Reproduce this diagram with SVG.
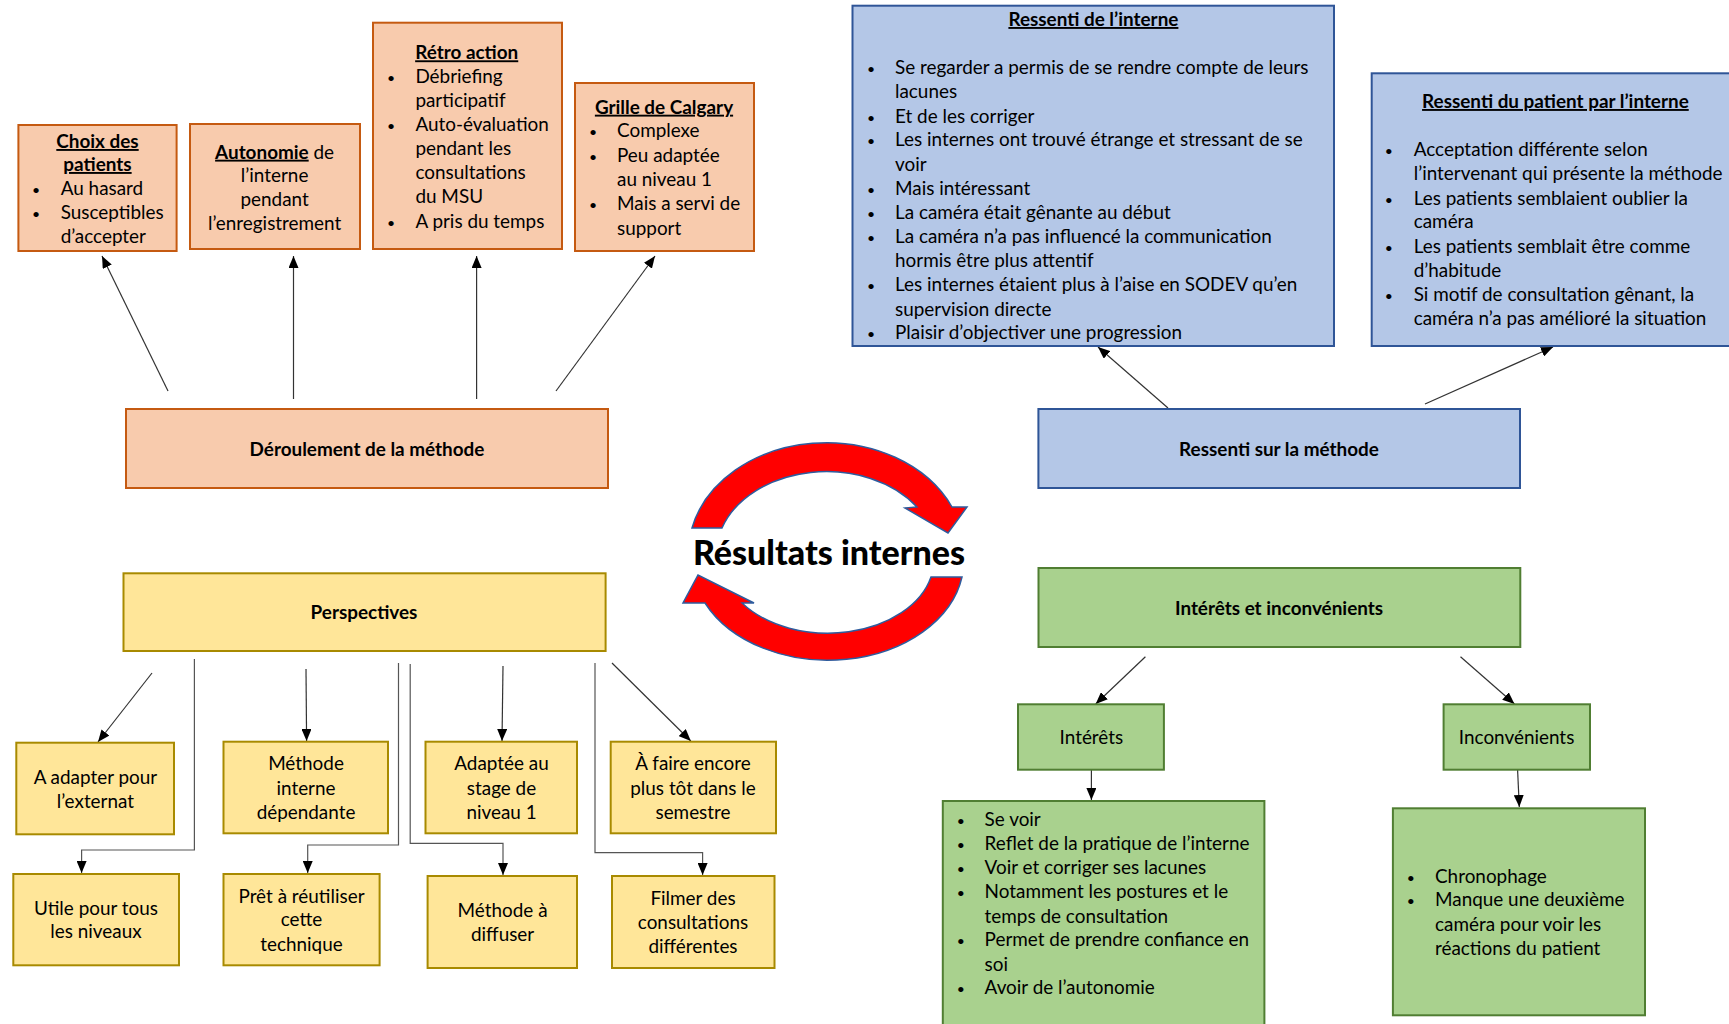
<svg xmlns="http://www.w3.org/2000/svg" width="1729" height="1024" viewBox="0 0 1729 1024">
<style>
.t{font-family:Lato,"Liberation Sans",sans-serif;font-size:18.9px;fill:#000}
.c{text-anchor:middle}
.b{font-weight:bold}
.u{text-decoration:underline}
.d{font-size:14px}
.or{fill:#F8CBAD;stroke:#C55A11;stroke-width:2}
.bl{fill:#B4C7E7;stroke:#2F5597;stroke-width:2}
.ye{fill:#FFE699;stroke:#A88A00;stroke-width:2}
.gr{fill:#A9D18E;stroke:#507E32;stroke-width:2}
.ln{stroke:#333;stroke-width:1.2;fill:none;marker-end:url(#ah)}
.el{stroke:#555;stroke-width:1.2;fill:none;marker-end:url(#ah)}
.ra{fill:#FF0000;stroke:#2E5C9E;stroke-width:1.5}
</style>
<defs>
<marker id="ah" markerUnits="userSpaceOnUse" markerWidth="12" markerHeight="10" refX="12" refY="5" orient="auto">
<path d="M0,0 L12,5 L0,10 z" fill="#000"/>
</marker>
</defs>
<rect width="1729" height="1024" fill="#fff"/>

<g id="connectors">
<line class="ln" x1="168" y1="391" x2="102" y2="256"/>
<line class="ln" x1="293.5" y1="399" x2="293.5" y2="256"/>
<line class="ln" x1="476.6" y1="399" x2="476.6" y2="256"/>
<line class="ln" x1="556" y1="391" x2="655" y2="256"/>
<line class="ln" x1="1168" y1="408" x2="1098" y2="347"/>
<line class="ln" x1="1425" y1="404" x2="1553" y2="347"/>
<line class="ln" x1="152" y1="673" x2="98" y2="742"/>
<polyline class="el" points="194.4,659 194.4,850 81.6,850 81.6,873"/>
<line class="ln" x1="306" y1="669" x2="306.6" y2="741"/>
<polyline class="el" points="398.5,663 398.5,845 307.7,845 307.7,873"/>
<polyline class="el" points="410.2,664 410.2,843.3 503,843.3 503,875"/>
<line class="ln" x1="503" y1="666" x2="502" y2="741"/>
<polyline class="el" points="595,663 595,852.7 702.6,852.7 702.6,875"/>
<line class="ln" x1="612" y1="663" x2="690.8" y2="741"/>
<line class="ln" x1="1145.4" y1="656.7" x2="1095.7" y2="704"/>
<line class="ln" x1="1460.5" y1="656.7" x2="1514.5" y2="704"/>
<line class="ln" x1="1091.4" y1="770" x2="1091.4" y2="800"/>
<line class="ln" x1="1517.6" y1="770" x2="1519.3" y2="807"/>
</g>

<g id="cycle">
<path class="ra" d="M692,528 A138,110 0 0 1 952,507 L967,507 L948,533 L905,508 L917,507 A110,82 0 0 0 722,528 Z"/>
<path class="ra" d="M962,577 A136,100 0 0 1 705,603 L683,603 L698,575 L754,603 L742,603 A106,73 0 0 0 931,577 Z"/>
<text class="t c b" x="829" y="565" style="font-size:34px;font-weight:900">Résultats internes</text>
</g>

<g id="choix">
<rect class="or" x="18.4" y="125" width="158.2" height="126"/>
<text class="t c b u" x="97.5" y="148">Choix des</text>
<text class="t c b u" x="97.5" y="171">patients</text>
<text class="t c d" x="36" y="195">•</text><text class="t" x="60.7" y="195">Au hasard</text>
<text class="t c d" x="36" y="219">•</text><text class="t" x="60.7" y="219">Susceptibles</text>
<text class="t" x="60.7" y="243">d’accepter</text>
</g>

<g id="autonomie">
<rect class="or" x="190" y="124" width="170" height="125"/>
<text class="t c" x="274.6" y="158.7"><tspan class="b u">Autonomie</tspan> de</text>
<text class="t c" x="274.6" y="182">l’interne</text>
<text class="t c" x="274.6" y="206">pendant</text>
<text class="t c" x="274.6" y="230">l’enregistrement</text>
</g>

<g id="retro">
<rect class="or" x="373" y="22.7" width="189" height="226.3"/>
<text class="t c b u" x="466.7" y="59.3">Rétro action</text>
<text class="t c d" x="391" y="82.7">•</text><text class="t" x="415.4" y="82.7">Débriefing</text>
<text class="t" x="415.4" y="106.7">participatif</text>
<text class="t c d" x="391" y="131">•</text><text class="t" x="415.4" y="131">Auto-évaluation</text>
<text class="t" x="415.4" y="155">pendant les</text>
<text class="t" x="415.4" y="179">consultations</text>
<text class="t" x="415.4" y="203">du MSU</text>
<text class="t c d" x="391" y="227.7">•</text><text class="t" x="415.4" y="227.7">A pris du temps</text>
</g>

<g id="grille">
<rect class="or" x="575" y="83" width="179" height="168"/>
<text class="t c b u" x="664" y="113.7">Grille de Calgary</text>
<text class="t c d" x="593" y="137">•</text><text class="t" x="617" y="137">Complexe</text>
<text class="t c d" x="593" y="161.7">•</text><text class="t" x="617" y="161.7">Peu adaptée</text>
<text class="t" x="617" y="186">au niveau 1</text>
<text class="t c d" x="593" y="210">•</text><text class="t" x="617" y="210">Mais a servi de</text>
<text class="t" x="617" y="234.7">support</text>
</g>

<g id="deroulement">
<rect class="or" x="126" y="409" width="482" height="79"/>
<text class="t c b" x="367" y="456">Déroulement de la méthode</text>
</g>

<g id="ressenti-interne">
<rect class="bl" x="852.5" y="5.7" width="481.5" height="340.3"/>
<text class="t c b u" x="1093.4" y="26">Ressenti de l’interne</text>
<text class="t c d" x="871" y="74.3">•</text><text class="t" x="895" y="74.3">Se regarder a permis de se rendre compte de leurs</text>
<text class="t" x="895" y="98.3">lacunes</text>
<text class="t c d" x="871" y="122.7">•</text><text class="t" x="895" y="122.7">Et de les corriger</text>
<text class="t c d" x="871" y="146.3">•</text><text class="t" x="895" y="146.3">Les internes ont trouvé étrange et stressant de se</text>
<text class="t" x="895" y="170.7">voir</text>
<text class="t c d" x="871" y="194.7">•</text><text class="t" x="895" y="194.7">Mais intéressant</text>
<text class="t c d" x="871" y="218.7">•</text><text class="t" x="895" y="218.7">La caméra était gênante au début</text>
<text class="t c d" x="871" y="243">•</text><text class="t" x="895" y="243">La caméra n’a pas influencé la communication</text>
<text class="t" x="895" y="267">hormis être plus attentif</text>
<text class="t c d" x="871" y="291.3">•</text><text class="t" x="895" y="291.3">Les internes étaient plus à l’aise en SODEV qu’en</text>
<text class="t" x="895" y="315.7">supervision directe</text>
<text class="t c d" x="871" y="339.3">•</text><text class="t" x="895" y="339.3">Plaisir d’objectiver une progression</text>
</g>

<g id="ressenti-patient">
<rect class="bl" x="1371.7" y="73.3" width="365" height="272.7"/>
<text class="t c b u" x="1555.4" y="108">Ressenti du patient par l’interne</text>
<text class="t c d" x="1388.8" y="156.3">•</text><text class="t" x="1413.7" y="156.3">Acceptation différente selon</text>
<text class="t" x="1413.7" y="180">l’intervenant qui présente la méthode</text>
<text class="t c d" x="1388.8" y="204.7">•</text><text class="t" x="1413.7" y="204.7">Les patients semblaient oublier la</text>
<text class="t" x="1413.7" y="228.3">caméra</text>
<text class="t c d" x="1388.8" y="253">•</text><text class="t" x="1413.7" y="253">Les patients semblait être comme</text>
<text class="t" x="1413.7" y="276.7">d’habitude</text>
<text class="t c d" x="1388.8" y="301.3">•</text><text class="t" x="1413.7" y="301.3">Si motif de consultation gênant, la</text>
<text class="t" x="1413.7" y="325.3">caméra n’a pas amélioré la situation</text>
</g>

<g id="ressenti-methode">
<rect class="bl" x="1038.4" y="409" width="481.6" height="79"/>
<text class="t c b" x="1279" y="456">Ressenti sur la méthode</text>
</g>

<g id="perspectives">
<rect class="ye" x="123.5" y="573.3" width="482.1" height="77.7"/>
<text class="t c b" x="364" y="619.3">Perspectives</text>
</g>

<g id="externat">
<rect class="ye" x="16.3" y="742.7" width="157.7" height="91.6"/>
<text class="t c" x="95.4" y="784.3">A adapter pour</text>
<text class="t c" x="95.4" y="808">l’externat</text>
</g>

<g id="methode-interne">
<rect class="ye" x="223.5" y="741.7" width="164.5" height="91.6"/>
<text class="t c" x="306" y="770.3">Méthode</text>
<text class="t c" x="306" y="794.7">interne</text>
<text class="t c" x="306" y="818.7">dépendante</text>
</g>

<g id="adaptee">
<rect class="ye" x="425.5" y="741.7" width="151.5" height="91.6"/>
<text class="t c" x="501.5" y="770.3">Adaptée au</text>
<text class="t c" x="501.5" y="794.7">stage de</text>
<text class="t c" x="501.5" y="818.7">niveau 1</text>
</g>

<g id="plus-tot">
<rect class="ye" x="610.7" y="741.7" width="165.3" height="91.6"/>
<text class="t c" x="693" y="770.3">À faire encore</text>
<text class="t c" x="693" y="794.7">plus tôt dans le</text>
<text class="t c" x="693" y="818.7">semestre</text>
</g>

<g id="utile">
<rect class="ye" x="13.3" y="874" width="165.7" height="91.3"/>
<text class="t c" x="96" y="914.7">Utile pour tous</text>
<text class="t c" x="96" y="938">les niveaux</text>
</g>

<g id="pret">
<rect class="ye" x="223.5" y="874" width="156.1" height="91.3"/>
<text class="t c" x="301.5" y="902.7">Prêt à réutiliser</text>
<text class="t c" x="301.5" y="926.3">cette</text>
<text class="t c" x="301.5" y="951">technique</text>
</g>

<g id="diffuser">
<rect class="ye" x="427.6" y="876" width="149.4" height="92"/>
<text class="t c" x="502.6" y="917">Méthode à</text>
<text class="t c" x="502.6" y="940.7">diffuser</text>
</g>

<g id="filmer">
<rect class="ye" x="612" y="876" width="162.5" height="92"/>
<text class="t c" x="693" y="905.3">Filmer des</text>
<text class="t c" x="693" y="929.3">consultations</text>
<text class="t c" x="693" y="953.3">différentes</text>
</g>

<g id="interets-inconvenients">
<rect class="gr" x="1038.5" y="568" width="481.8" height="79"/>
<text class="t c b" x="1279" y="615">Intérêts et inconvénients</text>
</g>

<g id="interets">
<rect class="gr" x="1018" y="704.3" width="145.9" height="65.4"/>
<text class="t c" x="1091.4" y="744">Intérêts</text>
</g>

<g id="inconvenients">
<rect class="gr" x="1443.6" y="704.3" width="146.4" height="65.4"/>
<text class="t c" x="1516.6" y="744">Inconvénients</text>
</g>

<g id="liste-interets">
<rect class="gr" x="942.8" y="801" width="321.6" height="235"/>
<text class="t c d" x="960.8" y="826">•</text><text class="t" x="984.6" y="826">Se voir</text>
<text class="t c d" x="960.8" y="850">•</text><text class="t" x="984.6" y="850">Reflet de la pratique de l’interne</text>
<text class="t c d" x="960.8" y="874.3">•</text><text class="t" x="984.6" y="874.3">Voir et corriger ses lacunes</text>
<text class="t c d" x="960.8" y="898">•</text><text class="t" x="984.6" y="898">Notamment les postures et le</text>
<text class="t" x="984.6" y="922.7">temps de consultation</text>
<text class="t c d" x="960.8" y="946">•</text><text class="t" x="984.6" y="946">Permet de prendre confiance en</text>
<text class="t" x="984.6" y="970.7">soi</text>
<text class="t c d" x="960.8" y="994.3">•</text><text class="t" x="984.6" y="994.3">Avoir de l’autonomie</text>
</g>

<g id="liste-inconvenients">
<rect class="gr" x="1392.9" y="808.3" width="252.1" height="207"/>
<text class="t c d" x="1410.8" y="882.7">•</text><text class="t" x="1435" y="882.7">Chronophage</text>
<text class="t c d" x="1410.8" y="906.3">•</text><text class="t" x="1435" y="906.3">Manque une deuxième</text>
<text class="t" x="1435" y="931">caméra pour voir les</text>
<text class="t" x="1435" y="954.7">réactions du patient</text>
</g>
</svg>
